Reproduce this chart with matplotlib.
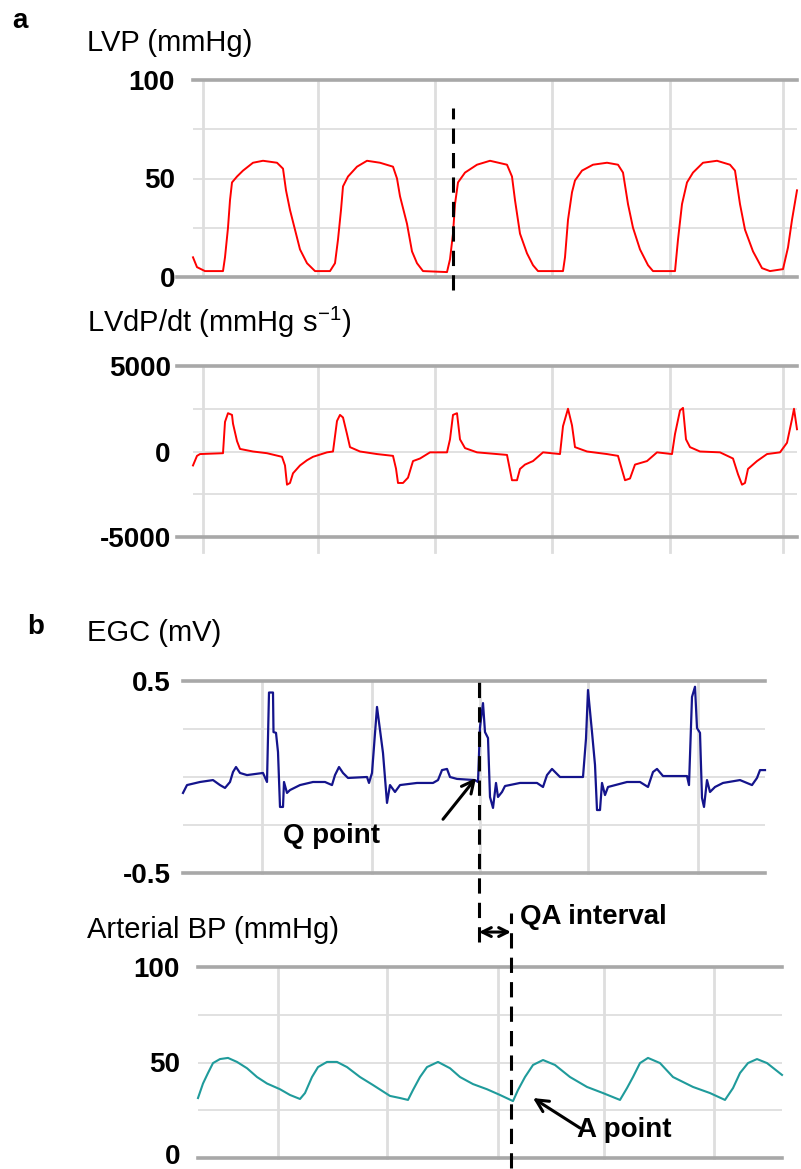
import matplotlib.pyplot as plt
import matplotlib.transforms as mtransforms
import numpy as np

plt.rcParams['font.family'] = ['Liberation Sans', 'DejaVu Sans']
plt.rcParams['mathtext.fontset'] = 'custom'
plt.rcParams['mathtext.rm'] = 'Liberation Sans'
plt.rcParams['mathtext.default'] = 'regular'

# ---- panel a : LVP and LVdP/dt (time in ms) ----
lvp_t = np.array([0, 4, 12, 30, 32, 35, 37, 39, 44, 50, 60, 70, 84, 90, 93, 97, 102, 107, 114, 122,
                  137, 142, 145, 148, 150, 155, 164, 174, 187, 200, 204, 207, 210, 214, 219, 224, 230,
                  254, 257, 260, 262, 265, 272, 284, 297, 314, 319, 322, 327, 334, 340, 345,
                  370, 372, 375, 379, 382, 389, 400, 414, 425, 430, 435, 440, 447, 455, 460,
                  482, 485, 489, 494, 500, 510, 524, 537, 542, 547, 552, 560, 569, 577, 590, 595, 599, 604])
lvp = np.array([10, 5, 3, 3, 10, 25, 39, 48, 51, 54, 58, 59, 58, 55, 44, 34, 24, 14, 7, 3,
                3, 7, 19, 34, 46, 51, 56, 59, 58, 56, 50, 41, 35, 27, 13, 7, 3,
                2.5, 9, 22, 37, 48, 53, 57, 59, 57, 51, 39, 22, 12, 6, 3,
                3, 10, 29, 43, 49, 54, 57, 58, 57, 53, 37, 25, 14, 6, 3,
                3, 19, 37, 48, 53, 58, 59, 57, 54, 37, 24, 13, 4.5, 3, 4, 15, 29, 44])

dpdt_t = np.array([0, 4, 7, 30, 32, 35, 39, 40, 44, 47, 60, 74, 89, 92, 94, 97, 100, 107, 114, 120,
                   134, 140, 144, 147, 150, 154, 157, 167, 184, 200, 203, 205, 210, 215, 220, 227, 237,
                   254, 257, 260, 264, 267, 272, 284, 304, 314, 319, 324, 327, 332, 340, 350,
                   367, 370, 375, 379, 382, 394, 414, 425, 432, 437, 442, 454, 464,
                   479, 482, 487, 490, 493, 497, 507, 527, 540, 545, 549, 552, 555, 564, 574, 587,
                   594, 599, 601, 604])
dpdt = np.array([-816, -255, -150, -100, 1730, 2240, 2140, 1630, 610, 150, 0, -100, -310, -816, -1940,
                 -1840, -1275, -816, -510, -310,
                 -50, 0, 1785, 2140, 1990, 1020, 255, 0, -150, -255, -1000, -1840, -1840, -1530, -560,
                 -410, -50,
                 -50, 710, 2140, 2240, 710, 200, -50, -150, -200, -1680, -1680, -1020, -765, -560, -50,
                 -150, 1480, 2500, 1530, 255, 0, -150, -255, -1680, -1580, -765, -560, -50,
                 -150, 1020, 2400, 2550, 710, 255, 0, -50, -410, -1330, -1940, -1840, -1020, -560,
                 -150, -50,
                 510, 1890, 2500, 1300])
t_lvp_mark = 260

# ---- panel b : ECG and arterial BP (time in ms) ----
ecg_t = np.array([0, 4, 17, 30, 37, 42, 47, 50, 53, 57, 64, 80, 84, 86, 90, 90.5, 93, 95, 97, 100,
                  101, 104, 107, 117, 130, 142, 149, 152, 156, 160, 165, 184, 186, 189, 194, 197,
                  200, 204, 207, 212, 217, 234, 250, 255, 259, 264, 267, 274, 292, 295, 297, 300,
                  302, 305, 307, 310, 313, 315, 319, 322, 337, 354, 360, 364, 369, 377, 400, 403,
                  405, 409, 412, 414, 417, 419, 422, 425, 444, 457, 465, 470, 474, 480, 504, 506,
                  509, 512, 514, 517, 519, 521, 524, 527, 532, 540, 557, 569, 574, 577, 582])
ecg = np.array([-0.083, -0.042, -0.026, -0.016, -0.042, -0.057, -0.026, 0.026, 0.052, 0.021, 0.010,
                0.021, -0.026, 0.44, 0.44, 0.234, 0.23, 0.13, -0.156, -0.156,
                -0.026, -0.083, -0.068, -0.042, -0.026, -0.026, -0.042, 0.01, 0.052, 0.021, -0.005,
                0.0, -0.031, 0.021, 0.365, 0.245,
                0.125, -0.135, -0.042, -0.078, -0.042, -0.031, -0.031, -0.016, 0.036, 0.042, 0.0,
                -0.01, -0.016, -0.026, 0.26, 0.385,
                0.234, 0.203, -0.104, -0.161, -0.031, -0.104, -0.078, -0.047, -0.031, -0.031, -0.052,
                0.01, 0.042, 0.0, 0.0, 0.2,
                0.453, 0.234, 0.063, -0.172, -0.172, -0.031, -0.094, -0.052, -0.026, -0.026, -0.052,
                0.026, 0.042, 0.005, 0.005, -0.042,
                0.417, 0.47, 0.255, 0.23, -0.109, -0.156, -0.016, -0.078, -0.052, -0.031, -0.016,
                -0.042, -0.005, 0.036, 0.036])

bp_t = np.array([15, 20, 25, 30, 37, 45, 54, 64, 74, 84, 97, 107, 117, 122, 129, 135, 144, 154, 164,
                 177, 190, 207, 217, 225, 230, 237, 244, 255, 267, 277, 290, 304, 317, 330, 335, 342,
                 350, 360, 372, 387, 404, 420, 437, 444, 450, 457, 465, 477, 490, 510, 527, 542, 550,
                 557, 565, 574, 584, 599])
bp = np.array([31.4, 39, 44.5, 49.7, 51.8, 52.4, 50.3, 47, 42.4, 39, 36, 33, 30.9, 34, 42.4, 47.6,
               50.3, 50.3, 47.6, 42.4, 38.2, 32.5, 31.4, 30.4, 35.6, 42.4, 47.6, 50.3, 47, 42.4, 38.7,
               36, 33, 29.8, 35.6, 42.4, 48.7, 51.3, 48.7, 42.4, 37.2, 34, 30.4, 36.6, 42.4, 49.7,
               52.4, 49.7, 42.4, 37.2, 34, 30.4, 36.6, 44.5, 49.7, 51.8, 49.7, 43.5])

t_q, t_a = 296, 328

lvp_labels = ['0', '50', '100']
dpdt_labels = ['-5000', '0', '5000']
ecg_labels = ['-0.5', '0.5']
bp_labels = ['0', '50', '100']

W, H = 801, 1169
GRID = '#dedede'
EDGE = '#a8a8a8'
DASH = (0, (5, 3))


def box(l, r, t, b):
    return [l / W, 1 - b / H, (r - l) / W, (b - t) / H]


def frame(ax, xlim, ylim, ticks, labels, vgrid, pad, ext=(0, 0), below=0.0):
    ax.set_xlim(xlim)
    ax.set_ylim(ylim)
    for s in ax.spines.values():
        s.set_visible(False)
    ax.set_xticks([])
    ax.set_yticks(ticks)
    ax.set_yticklabels(labels, fontsize=20, fontweight='bold')
    ax.tick_params(axis='y', length=0, pad=pad)
    lo, hi = ylim
    for y in np.linspace(lo, hi, 5)[1:-1]:
        ax.axhline(y, color=GRID, lw=1.3, zorder=0)
    for x in vgrid:
        ax.axvline(x, ymin=-below, ymax=1, color=GRID, lw=2.0, zorder=0, clip_on=False)
    ax.axhline(lo, xmin=-ext[0], color=EDGE, lw=2.6, zorder=1, clip_on=False)
    ax.axhline(hi, xmin=-ext[1], color=EDGE, lw=2.6, zorder=1, clip_on=False)


fig = plt.figure(figsize=(W / 100, H / 100), dpi=100)

ax1 = fig.add_axes(box(193, 797, 80, 277))
ax2 = fig.add_axes(box(193, 797, 366, 537))
ax3 = fig.add_axes(box(183, 765, 681, 873))
ax4 = fig.add_axes(box(198, 782, 967, 1158))

grid_a = [10, 125, 242, 359, 477, 590]
frame(ax1, (0, 604), (0, 100), [0, 50, 100], lvp_labels, grid_a, 13, ext=(0.026, 0))
frame(ax2, (0, 604), (-5000, 5000), [-5000, 0, 5000], dpdt_labels, grid_a, 16,
      ext=(0.026, 0.026), below=0.088)
frame(ax3, (0, 582), (-0.5, 0.5), [-0.5, 0.5], ecg_labels, [79, 189, 297, 405, 515], 9)
frame(ax4, (15, 599), (0, 100), [0, 50, 100], bp_labels, [95, 204, 315, 421, 531], 13)

# lift the bottom "0" a little so it stays inside the image
lab0 = ax4.yaxis.get_major_ticks()[0].label1
lab0.set_transform(lab0.get_transform() +
                   mtransforms.ScaledTranslation(0, 3 / 72, fig.dpi_scale_trans))

ax1.plot(lvp_t, lvp, color='#ff0000', lw=1.4, zorder=2, clip_on=False)
ax2.plot(dpdt_t, dpdt, color='#ff0000', lw=1.4, zorder=2, clip_on=False)
ax3.plot(ecg_t, ecg, color='#14148c', lw=1.6, zorder=2, clip_on=False)
ax4.plot(bp_t, bp, color='#1f9b9b', lw=1.5, zorder=2, clip_on=False)

# dashed markers
ax1.axvline(t_lvp_mark, ymin=-13 / 197, ymax=169 / 197, color='black', lw=2.2, ls=DASH,
            zorder=3, clip_on=False)
ax3.axvline(t_q, ymin=-69 / 192, ymax=191 / 192, color='black', lw=2.2, ls=DASH,
            zorder=3, clip_on=False)
ax4.axvline(t_a, ymin=-10 / 191, ymax=245 / 191, color='black', lw=2.2, ls=DASH,
            zorder=3, clip_on=False)

arrow = dict(arrowstyle='->', lw=2.2, color='black', mutation_scale=22, shrinkA=0, shrinkB=0)
ax3.annotate('', xy=(293, -0.005), xytext=(260, -0.22), arrowprops=arrow)
ax3.text(100, -0.307, 'Q point', fontsize=20, fontweight='bold', ha='left', va='center')

ax4.annotate('', xy=(350, 31.4), xytext=(397, 15.7), arrowprops=arrow)
ax4.text(394, 14.7, 'A point', fontsize=20, fontweight='bold', ha='left', va='center')

ax4.annotate('', xy=(t_a, 1.183), xycoords=ax4.get_xaxis_transform(),
             xytext=(t_q, 1.183), textcoords=ax4.get_xaxis_transform(),
             arrowprops=dict(arrowstyle='<->', lw=2.2, color='black', mutation_scale=16,
                             shrinkA=0, shrinkB=0))
ax4.text(t_a + 9, 1.262, 'QA interval', transform=ax4.get_xaxis_transform(),
         fontsize=20, fontweight='bold', ha='left', va='center')

# titles and panel letters
def label(x, y, s, size=21, **kw):
    fig.text(x / W, 1 - y / H, s, fontsize=size, ha='left', va='center', **kw)

label(12, 21, 'a', size=20, fontweight='bold')
label(87, 43, 'LVP (mmHg)')
label(87, 322, r'LVdP/dt (mmHg s$^{-1}$)')
label(27, 627, 'b', size=20, fontweight='bold')
label(87, 633, 'EGC (mV)')
label(87, 930, 'Arterial BP (mmHg)')

fig.savefig('out.png', dpi=100)
